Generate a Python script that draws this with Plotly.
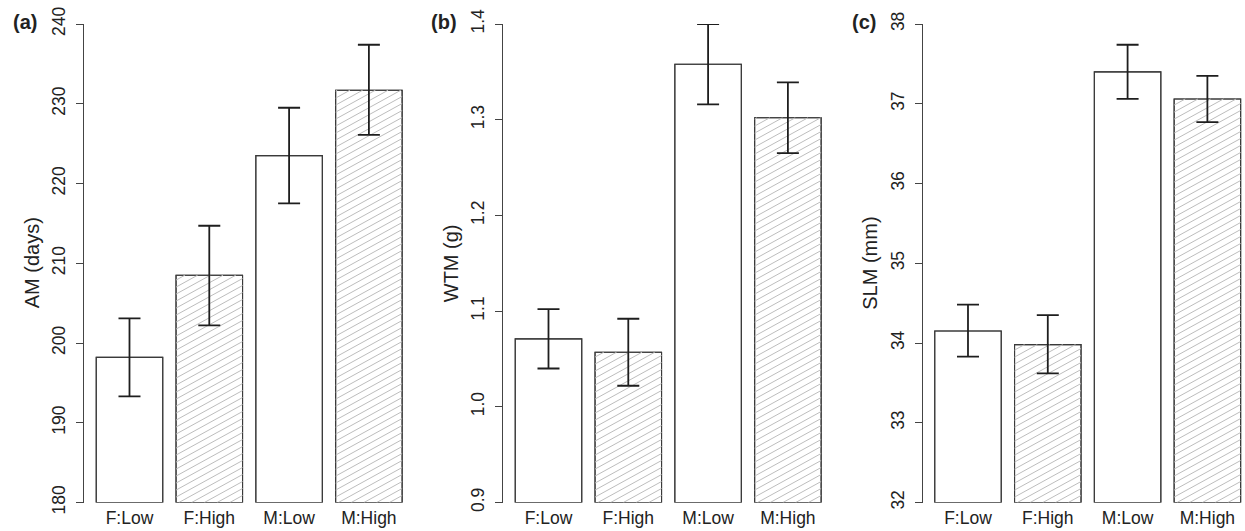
import plotly.graph_objects as go

# ---------------- data ----------------
categories = ["F:Low", "F:High", "M:Low", "M:High"]
hatched = [False, True, False, True]

am_mean = [198.2, 208.5, 223.5, 231.7]
am_upper = [203.1, 214.7, 229.5, 237.4]
am_lower = [193.3, 202.2, 217.5, 226.1]

wtm_mean = [1.071, 1.057, 1.358, 1.302]
wtm_upper = [1.102, 1.092, 1.400, 1.339]
wtm_lower = [1.040, 1.022, 1.316, 1.265]

slm_mean = [34.15, 33.98, 37.40, 37.06]
slm_upper = [34.48, 34.35, 37.74, 37.35]
slm_lower = [33.83, 33.62, 37.06, 36.77]

am_ticks = [180, 190, 200, 210, 220, 230, 240]
wtm_ticks = [0.9, 1.0, 1.1, 1.2, 1.3, 1.4]
slm_ticks = [32, 33, 34, 35, 36, 37, 38]

panels = [
    dict(tag="(a)", title="AM (days)", mean=am_mean, up=am_upper, lo=am_lower,
         ticks=am_ticks, ticktext=[str(t) for t in am_ticks], ymin=180, ymax=240),
    dict(tag="(b)", title="WTM (g)", mean=wtm_mean, up=wtm_upper, lo=wtm_lower,
         ticks=wtm_ticks, ticktext=[f"{t:.1f}" for t in wtm_ticks], ymin=0.9, ymax=1.4),
    dict(tag="(c)", title="SLM (mm)", mean=slm_mean, up=slm_upper, lo=slm_lower,
         ticks=slm_ticks, ticktext=[str(t) for t in slm_ticks], ymin=32, ymax=38),
]

# ---------------- layout geometry (pixels) ----------------
W, H = 1245, 531
TOP, BOT = 24.0, 502.5
PXU = 66.5                     # pixels per bar-width unit
XMIN, XMAX = 0.016, 4.984      # R barplot extended x range
axis_left = [84.0, 503.0, 922.5]
centers = [0.7 + 1.2 * i for i in range(len(categories))]
BARW = 1.0

HATCH_T = 0.55                 # slope of hatch lines (pixel space)
HATCH_S = 7.0                  # vertical spacing of hatch lines (px)

FONT = "Liberation Sans, Arial, Helvetica, sans-serif"
fig = go.Figure()
annotations = []
ydom = [1 - BOT / H, 1 - TOP / H]
plot_h = BOT - TOP

for k, p in enumerate(panels):
    n = k + 1
    xa = "x" if n == 1 else f"x{n}"
    ya = "y" if n == 1 else f"y{n}"
    L = axis_left[k]
    R = L + (XMAX - XMIN) * PXU
    xmax = XMAX
    if R > W:
        R = W
        xmax = XMIN + (W - L) / PXU
    pyu = plot_h / (p["ymax"] - p["ymin"])

    base = p["ymin"]
    fig.add_trace(go.Bar(
        x=centers, y=[m - base for m in p["mean"]], base=base, width=BARW,
        marker=dict(color="white", line=dict(color="#3a3a3a", width=1.1)),
        xaxis=xa, yaxis=ya, showlegend=False, hoverinfo="skip"))

    # hatch lines for hatched bars (computed from bar geometry)
    hx, hy = [], []
    for c, m, h in zip(centers, p["mean"], hatched):
        if not h:
            continue
        u0 = (c - BARW / 2 - XMIN) * PXU
        u1 = (c + BARW / 2 - XMIN) * PXU
        vtop = (m - base) * pyu
        cc = -HATCH_T * u1
        while cc < vtop - HATCH_T * u0:
            us = max(u0, (0 - cc) / HATCH_T)
            ue = min(u1, (vtop - cc) / HATCH_T)
            if ue - us > 0.3:
                hx += [XMIN + us / PXU, XMIN + ue / PXU, None]
                hy += [base + (HATCH_T * us + cc) / pyu, base + (HATCH_T * ue + cc) / pyu, None]
            cc += HATCH_S
    fig.add_trace(go.Scatter(
        x=hx, y=hy, mode="lines", line=dict(color="#bdbdbd", width=1),
        xaxis=xa, yaxis=ya, showlegend=False, hoverinfo="skip"))
    # redraw outlines over hatch
    fig.add_trace(go.Bar(
        x=centers, y=[m - base for m in p["mean"]], base=base, width=BARW,
        marker=dict(color="rgba(0,0,0,0)", line=dict(color="#3a3a3a", width=1.1)),
        xaxis=xa, yaxis=ya, showlegend=False, hoverinfo="skip"))

    # error bars
    fig.add_trace(go.Scatter(
        x=centers, y=p["mean"], mode="markers",
        marker=dict(size=1, color="rgba(0,0,0,0)"),
        error_y=dict(type="data", symmetric=False,
                     array=[u - m for u, m in zip(p["up"], p["mean"])],
                     arrayminus=[m - l for m, l in zip(p["mean"], p["lo"])],
                     color="#1e1e1e", thickness=1.8, width=11),
        xaxis=xa, yaxis=ya, showlegend=False, hoverinfo="skip"))

    fig.update_layout(**{
        ("xaxis" if n == 1 else f"xaxis{n}"): dict(
            domain=[L / W, R / W], range=[XMIN, xmax], anchor=ya, automargin=False,
            tickmode="array", tickvals=centers, ticktext=categories,
            showline=False, ticks="", showgrid=False, zeroline=False,
            tickfont=dict(family=FONT, size=17.5, color="#222"),
            ticklabelstandoff=3),
        ("yaxis" if n == 1 else f"yaxis{n}"): dict(
            domain=ydom, range=[p["ymin"], p["ymax"]], anchor=xa, automargin=False,
            tickmode="array", tickvals=p["ticks"], ticktext=p["ticktext"],
            tickangle=-90, ticks="outside", ticklen=7, tickwidth=1, tickcolor="#444",
            showline=True, linecolor="#444", linewidth=1,
            showgrid=False, zeroline=False,
            tickfont=dict(family=FONT, size=17.5, color="#222"),
            ticklabelstandoff=4),
    })

    annotations.append(dict(
        text=p["title"], xref="paper", yref="paper",
        x=(L - 52) / W, y=(ydom[0] + ydom[1]) / 2, textangle=-90,
        xanchor="center", yanchor="middle", showarrow=False,
        font=dict(family=FONT, size=20, color="#222")))
    annotations.append(dict(
        text="<b>" + p["tag"] + "</b>", xref="paper", yref="paper",
        x=(L - 59) / W, y=1 - 22 / H, xanchor="center", yanchor="middle",
        showarrow=False, font=dict(family=FONT, size=20, color="#222")))

fig.update_layout(
    width=W, height=H, margin=dict(l=0, r=0, t=0, b=0, autoexpand=False),
    paper_bgcolor="white", plot_bgcolor="white",
    barmode="overlay", annotations=annotations, showlegend=False)

fig.write_html(
    "out.html",
    config={"displayModeBar": False},
    post_script="document.body.style.margin='0';document.body.style.overflow='hidden';")
